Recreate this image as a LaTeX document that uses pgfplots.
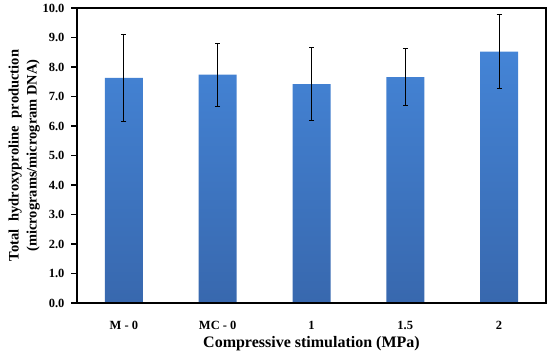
\documentclass[border=0pt]{standalone}
\usepackage{pgfplots}
\pgfplotsset{compat=1.18}
\usepackage{fontspec}
\setmainfont{Liberation Serif}
\begin{document}
\begin{tikzpicture}
\begin{axis}[
  scale only axis,
  width=469pt, height=295pt,
  xmin=-0.5, xmax=4.5,
  ymin=0, ymax=10,
  ytick={0,1,...,10},
  xtick={0,1,2,3,4},
  ytick pos=left,
  xticklabels={M - 0, MC - 0, 1, 1.5, 2},
  yticklabel style={/pgf/number format/fixed, /pgf/number format/fixed zerofill, /pgf/number format/precision=1},
  /pgf/number format/assume math mode=true,
  ticklabel style={font=\fontsize{12.5}{13}\selectfont\bfseries},
  y tick label style={xshift=-3pt},
  x tick label style={yshift=-9pt},
  tick align=outside,
  ytick style={black, line width=1.2pt},
  major tick length=6pt,
  xtick style={draw=none},
  axis line style={black, line width=1.5pt},
  xlabel={Compressive stimulation (MPa)},
  xlabel style={font=\fontsize{16}{17}\selectfont\bfseries, yshift=0pt},
  ylabel={Total\hspace{8pt}hydroxyproline\hspace{8pt}production\\(micrograms/microgram DNA)},
  ylabel style={font=\fontsize{14.5}{18}\selectfont\bfseries, align=center, yshift=-4pt},
  clip=false,
]
\addplot[ybar, bar width=38pt, draw=none, top color={rgb,255:red,68;green,132;blue,214}, bottom color={rgb,255:red,56;green,104;blue,174},
  error bars/.cd, y dir=both, y explicit,
  error bar style={black, line width=0.9pt},
  error mark options={rotate=90, mark size=2.5pt, black, line width=0.9pt}]
coordinates {
(0,7.63) +- (0,1.46)
(1,7.74) +- (0,1.07)
(2,7.42) +- (0,1.23)
(3,7.66) +- (0,0.98)
(4,8.52) +- (0,1.26)
};
\draw[black, line width=2.4pt] (rel axis cs:0,1) -- (rel axis cs:0,0) -- (rel axis cs:1,0);
\end{axis}
\path ([xshift=-77pt,yshift=-51pt]current axis.south west) rectangle ([xshift=2pt,yshift=8pt]current axis.north east);
\end{tikzpicture}
\end{document}
